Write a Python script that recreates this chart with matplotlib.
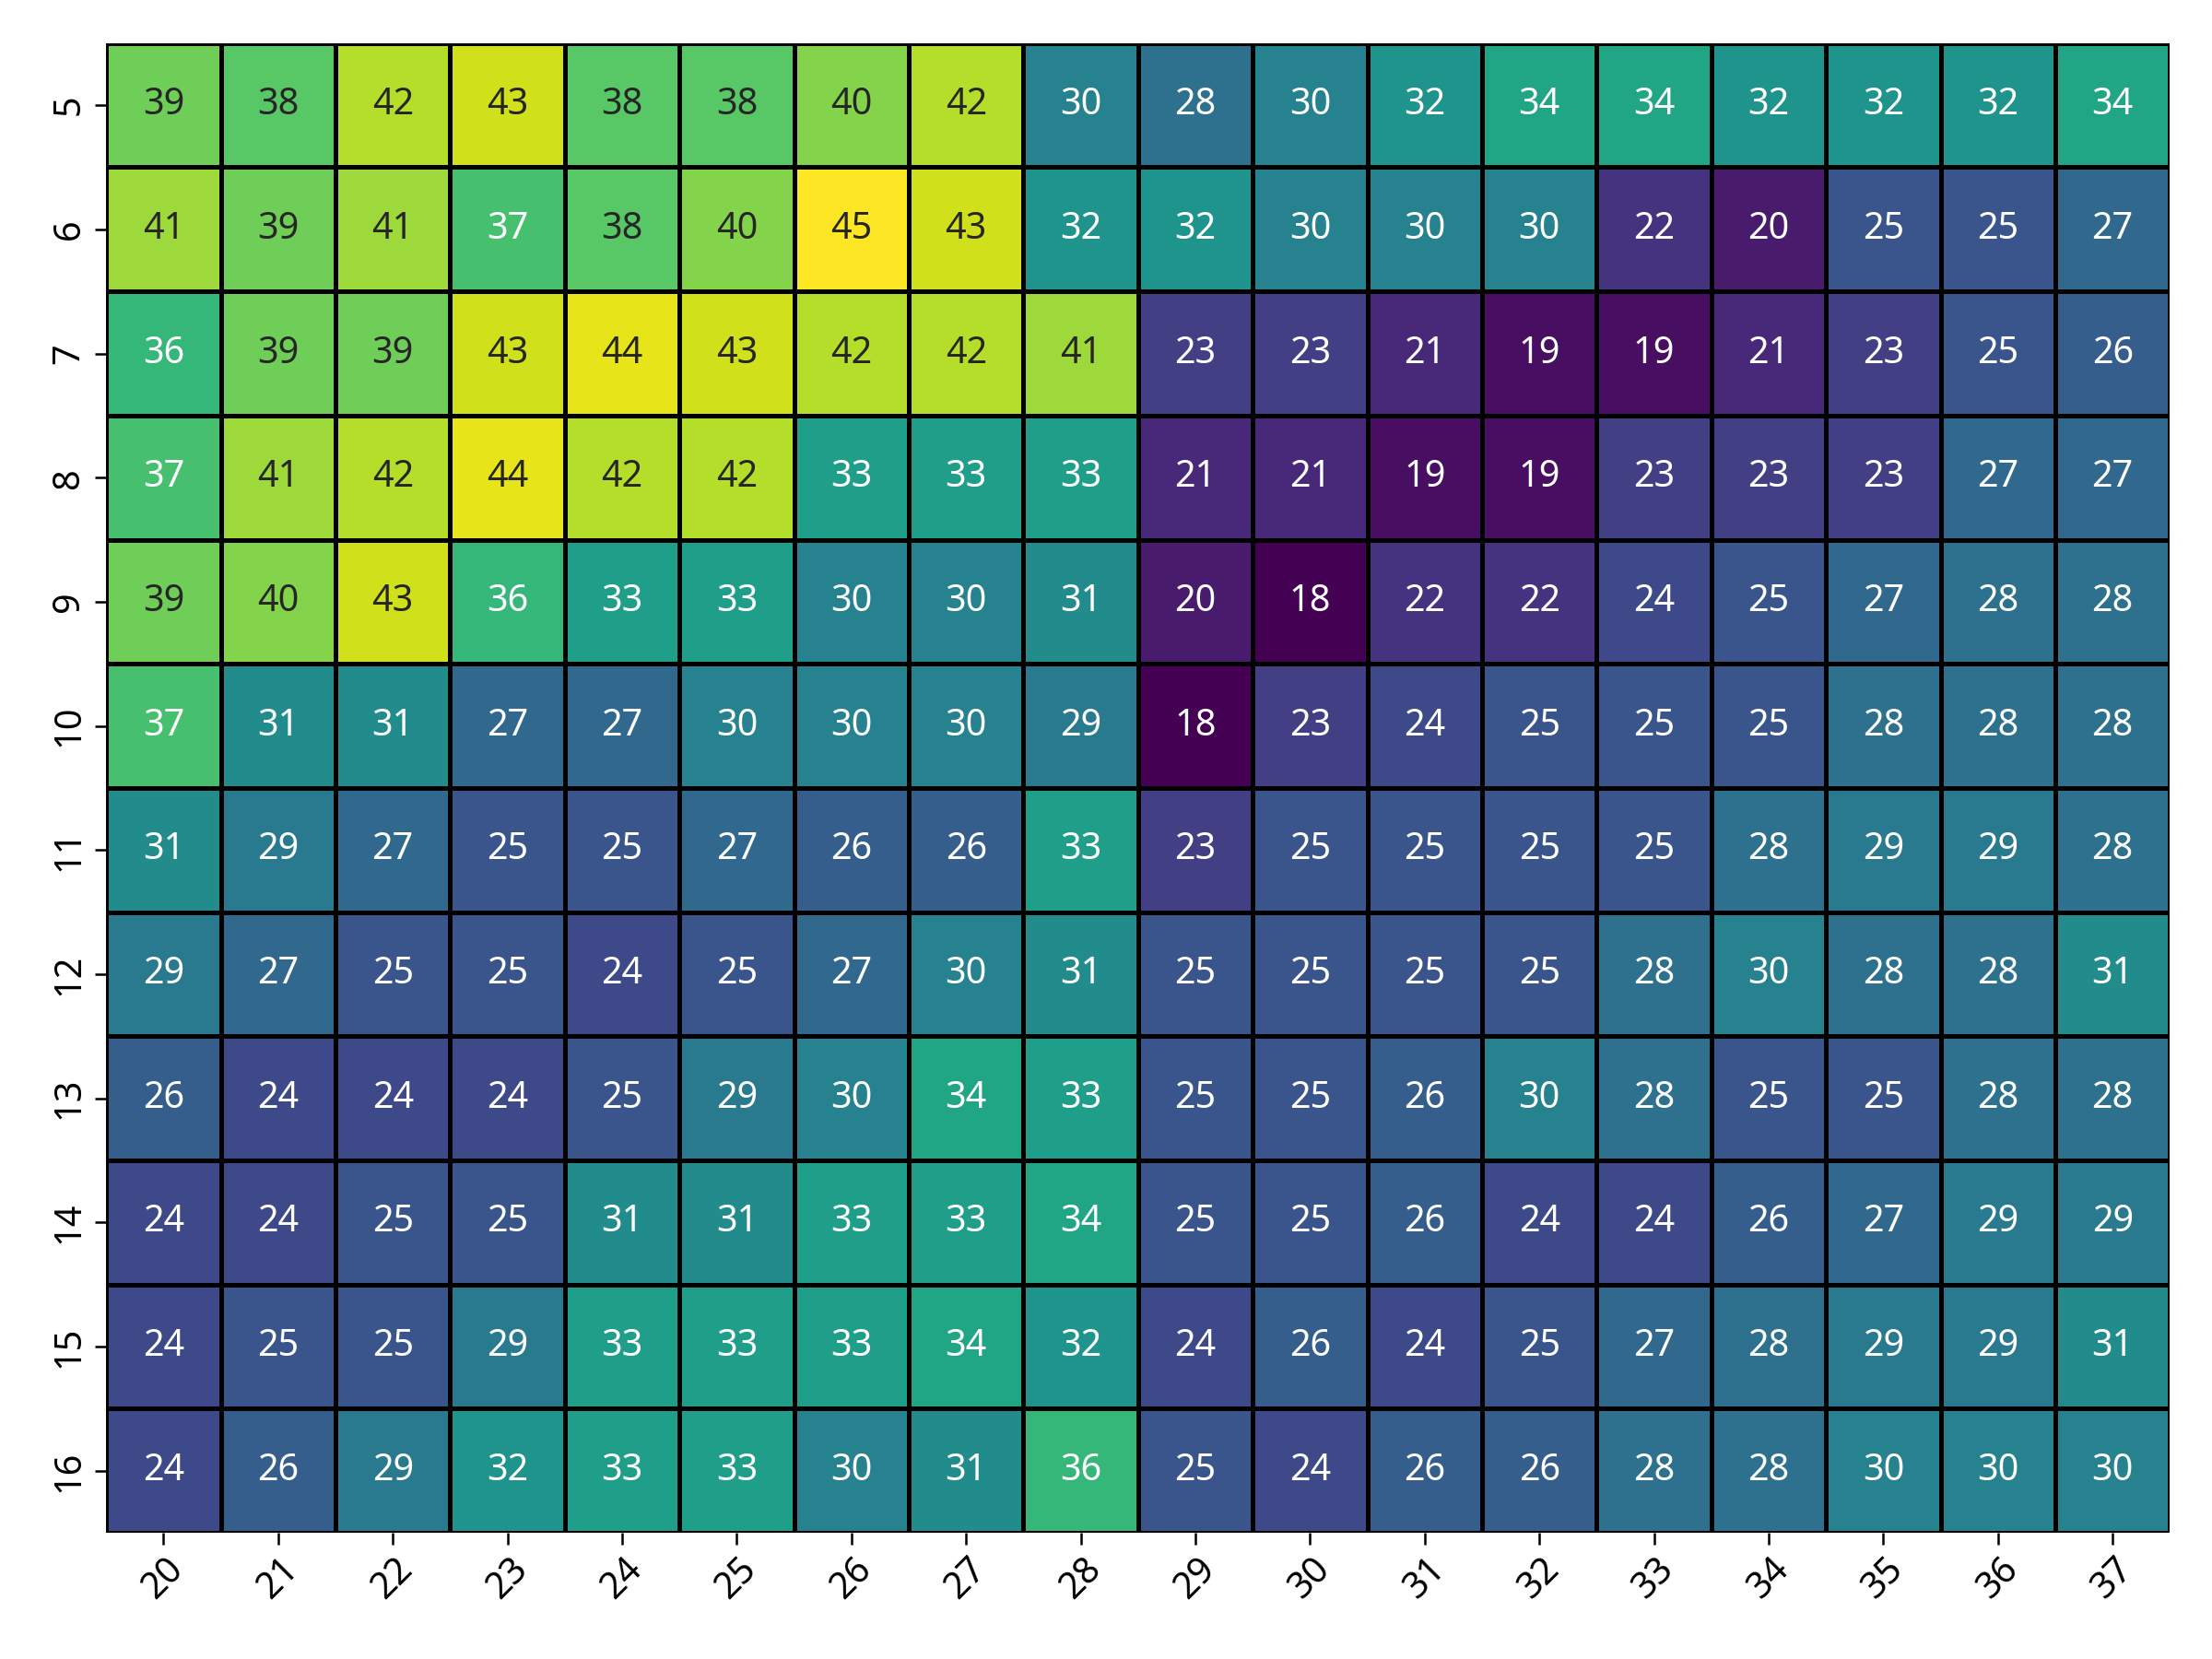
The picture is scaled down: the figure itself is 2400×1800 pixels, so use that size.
import numpy as np
import pandas as pd
import matplotlib
matplotlib.use('Agg')
import matplotlib.pyplot as plt
import seaborn as sns

plt.rcParams['font.family'] = ['Noto Sans', 'DejaVu Sans']

# 행/열 레이블
rows = [5, 6, 7, 8, 9, 10, 11, 12, 13, 14, 15, 16]
cols = list(range(20, 38))

# 셀 값 (행별)
r5 = [39, 38, 42, 43, 38, 38, 40, 42, 30, 28, 30, 32, 34, 34, 32, 32, 32, 34]
r6 = [41, 39, 41, 37, 38, 40, 45, 43, 32, 32, 30, 30, 30, 22, 20, 25, 25, 27]
r7 = [36, 39, 39, 43, 44, 43, 42, 42, 41, 23, 23, 21, 19, 19, 21, 23, 25, 26]
r8 = [37, 41, 42, 44, 42, 42, 33, 33, 33, 21, 21, 19, 19, 23, 23, 23, 27, 27]
r9 = [39, 40, 43, 36, 33, 33, 30, 30, 31, 20, 18, 22, 22, 24, 25, 27, 28, 28]
r10 = [37, 31, 31, 27, 27, 30, 30, 30, 29, 18, 23, 24, 25, 25, 25, 28, 28, 28]
r11 = [31, 29, 27, 25, 25, 27, 26, 26, 33, 23, 25, 25, 25, 25, 28, 29, 29, 28]
r12 = [29, 27, 25, 25, 24, 25, 27, 30, 31, 25, 25, 25, 25, 28, 30, 28, 28, 31]
r13 = [26, 24, 24, 24, 25, 29, 30, 34, 33, 25, 25, 26, 30, 28, 25, 25, 28, 28]
r14 = [24, 24, 25, 25, 31, 31, 33, 33, 34, 25, 25, 26, 24, 24, 26, 27, 29, 29]
r15 = [24, 25, 25, 29, 33, 33, 33, 34, 32, 24, 26, 24, 25, 27, 28, 29, 29, 31]
r16 = [24, 26, 29, 32, 33, 33, 30, 31, 36, 25, 24, 26, 26, 28, 28, 30, 30, 30]

df = pd.DataFrame([r5, r6, r7, r8, r9, r10, r11, r12, r13, r14, r15, r16],
                  index=rows, columns=cols)

fig, ax = plt.subplots(figsize=(16, 12), dpi=150)
sns.heatmap(df, annot=True, fmt='d', cmap='viridis', cbar=False,
            linewidths=1.5, linecolor='black',
            annot_kws={'fontsize': 19}, ax=ax)

ax.set_xlabel('')
ax.set_ylabel('')
ax.tick_params(axis='both', labelsize=19, length=6, width=1.2)
plt.setp(ax.get_xticklabels(), rotation=45)
plt.setp(ax.get_yticklabels(), rotation=90, va='center')

plt.subplots_adjust(left=0.048, right=0.981, top=0.974, bottom=0.076)
plt.savefig('out.png', dpi=150)
plt.close()
